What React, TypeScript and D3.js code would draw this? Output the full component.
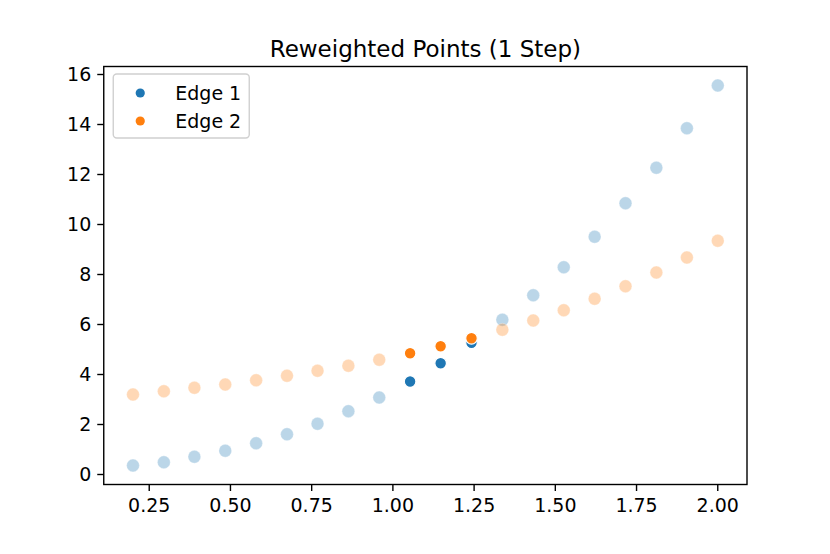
import React from "react";
import * as d3 from "d3";

// data
const xValues = [0.2, 0.295, 0.389, 0.484, 0.579, 0.674, 0.768, 0.863, 0.958, 1.053, 1.147, 1.242, 1.337, 1.432, 1.526, 1.621, 1.716, 1.811, 1.905, 2.0];
const edge1 = [0.36, 0.49, 0.71, 0.95, 1.25, 1.61, 2.03, 2.53, 3.08, 3.72, 4.45, 5.27, 6.19, 7.17, 8.29, 9.51, 10.85, 12.27, 13.85, 15.56];
const edge2 = [3.2, 3.33, 3.47, 3.6, 3.77, 3.95, 4.15, 4.35, 4.59, 4.85, 5.13, 5.45, 5.79, 6.16, 6.57, 7.03, 7.53, 8.08, 8.68, 9.35];
const highlighted = [9, 10, 11]; // the 1-step points
const seriesNames = ["Edge 1", "Edge 2"];
const seriesColors = ["#1f77b4", "#ff7f0e"];
const xTicks = [0.25, 0.5, 0.75, 1.0, 1.25, 1.5, 1.75, 2.0];
const yTicks = [0, 2, 4, 6, 8, 10, 12, 14, 16];
const title = "Reweighted Points (1 Step)";

const W = 830;
const H = 554;
const box = { left: 103.75, right: 747, top: 66.5, bottom: 484.5 };
const font = "DejaVu Sans, sans-serif";

export default function App() {
  const series = [edge1, edge2];

  const xs = d3.extent(xValues) as [number, number];
  const allY = edge1.concat(edge2);
  const ys = d3.extent(allY) as [number, number];
  const xPad = (xs[1] - xs[0]) * 0.05;
  const yPad = (ys[1] - ys[0]) * 0.05;

  const x = d3.scaleLinear().domain([xs[0] - xPad, xs[1] + xPad]).range([box.left, box.right]);
  const y = d3.scaleLinear().domain([ys[0] - yPad, ys[1] + yPad]).range([box.bottom, box.top]);

  const faded = series.flatMap((vals, s) =>
    vals.map((v, i) => ({ s, i, v })).filter((d) => !highlighted.includes(d.i))
  );
  const strong = series.flatMap((vals, s) =>
    vals.map((v, i) => ({ s, i, v })).filter((d) => highlighted.includes(d.i))
  );

  return (
    <svg
      width={W}
      height={H}
      style={{ position: "absolute", left: 0, top: 0, background: "#fff" }}
      fontFamily={font}
    >
      <rect width={W} height={H} fill="#fff" />
      <text x={(box.left + box.right) / 2} y={box.top - 10} fontSize={23} textAnchor="middle">
        {title}
      </text>

      {/* faded points */}
      {faded.map((d) => (
        <circle
          key={`f${d.s}-${d.i}`}
          cx={x(xValues[d.i])}
          cy={y(d.v)}
          r={6.4}
          fill={seriesColors[d.s]}
          fillOpacity={0.3}
          stroke="#fff"
          strokeOpacity={0.3}
          strokeWidth={1}
        />
      ))}
      {/* highlighted points */}
      {strong.map((d) => (
        <circle
          key={`h${d.s}-${d.i}`}
          cx={x(xValues[d.i])}
          cy={y(d.v)}
          r={5.8}
          fill={seriesColors[d.s]}
          stroke="#fff"
          strokeWidth={1.2}
        />
      ))}

      {/* spines */}
      <rect
        x={box.left}
        y={box.top}
        width={box.right - box.left}
        height={box.bottom - box.top}
        fill="none"
        stroke="#000"
        strokeWidth={1.4}
      />

      {/* x axis */}
      {xTicks.map((t) => (
        <g key={`x${t}`} transform={`translate(${x(t)},${box.bottom})`}>
          <line y2={6.5} stroke="#000" strokeWidth={1.4} />
          <text y={27.5} fontSize={19} textAnchor="middle">
            {t.toFixed(2)}
          </text>
        </g>
      ))}

      {/* y axis */}
      {yTicks.map((t) => (
        <g key={`y${t}`} transform={`translate(${box.left},${y(t)})`}>
          <line x2={-6.5} stroke="#000" strokeWidth={1.4} />
          <text x={-12.5} dy="0.36em" fontSize={19} textAnchor="end">
            {t}
          </text>
        </g>
      ))}

      {/* legend */}
      <g transform={`translate(${box.left + 9.5},${box.top + 7.5})`}>
        <rect
          x={0}
          y={0}
          width={136}
          height={64}
          rx={3.5}
          fill="#fff"
          fillOpacity={0.8}
          stroke="#d0d0d0"
          strokeWidth={1.4}
        />
        {seriesNames.map((name, k) => (
          <g key={name} transform={`translate(0,${19 + k * 28})`}>
            <circle cx={27} cy={0} r={4.6} fill={seriesColors[k]} />
            <text x={62} dy="0.36em" fontSize={19}>
              {name}
            </text>
          </g>
        ))}
      </g>
    </svg>
  );
}
